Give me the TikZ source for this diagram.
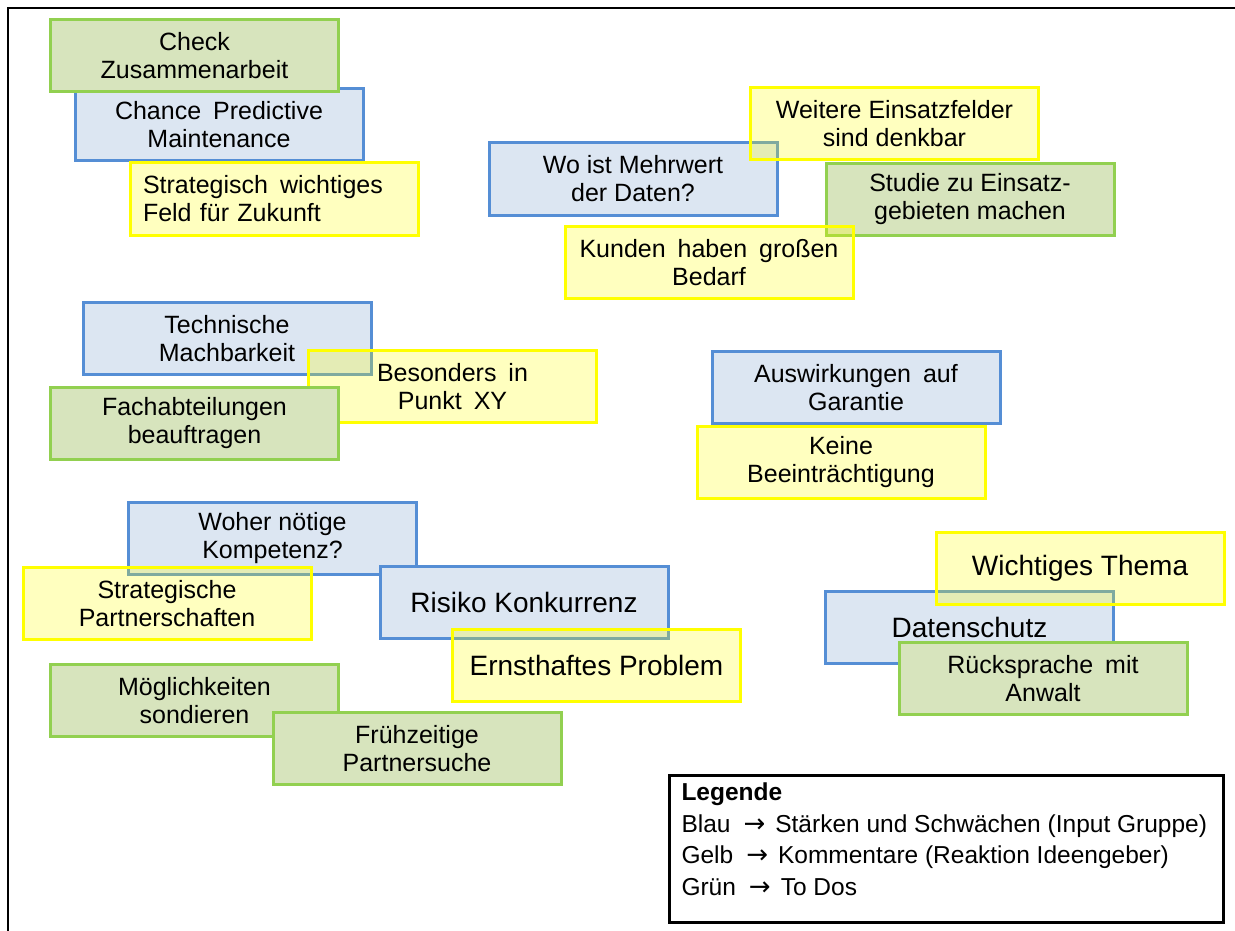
\documentclass[tikz,border=0pt]{standalone}
\usepackage{fontspec}
\setmainfont{Liberation Sans}
\newfontfamily\arrowfont{DejaVu Sans}
\definecolor{bfill}{RGB}{220,230,242}
\definecolor{bdraw}{RGB}{85,142,213}
\definecolor{gfill}{RGB}{215,228,189}
\definecolor{gdraw}{RGB}{146,208,80}
\definecolor{ydraw}{RGB}{255,255,0}
\newcommand\wsp{\hspace{0.48em}}
\newcommand\legarrow{\hspace{13pt}{\arrowfont\fontsize{26}{31.5}\selectfont →}\hspace{10pt}}
\begin{document}
\begin{tikzpicture}[x=1pt,y=-1pt,
  card/.style={rectangle, line width=3pt, minimum width=288pt, minimum height=72pt, inner sep=0pt, align=center, font=\fontsize{25}{28}\selectfont},
  bluecard/.style={card, draw=bdraw, fill=bfill},
  greencard/.style={card, draw=gdraw, fill=gfill},
  yellowcard/.style={card, draw=ydraw, fill=ydraw, fill opacity=0.25, text opacity=1},
  big/.style={font=\fontsize{28}{32}\selectfont},
  legendbox/.style={rectangle, draw=black, line width=3pt, fill=white, inner xsep=12.5pt, inner ysep=3.5pt, align=left}]
\useasboundingbox (0,0) rectangle (1235,931);
\fill[white] (0,0) rectangle (1235,931);
\coordinate (fb) at (8,931);
\coordinate (fc) at (8,8);
\coordinate (fr) at (1235,8);
\draw[line width=2.5pt] (fb) -- (fc) -- (fr);

\node[bluecard] (chance) at (219,124.5) {Chance\wsp Predictive\\Maintenance};
\node[greencard] (check) at (194.5,56) {Check\\Zusammenarbeit};
\node[yellowcard, align=left, text width=262pt, inner xsep=13pt] (strat) at (274,199) {Strategisch\wsp wichtiges\\Feld für Zukunft};

\node[bluecard] (wo) at (633,179) {Wo ist Mehrwert\\der Daten?};
\node[yellowcard] (weitere) at (894.5,124) {Weitere Einsatzfelder\\sind denkbar};
\node[greencard] (studie) at (970,199.5) {Studie zu Einsatz-\\gebieten machen};
\node[yellowcard] (kunden) at (709,262.5) {Kunden\wsp haben\wsp großen\\Bedarf};

\node[bluecard] (tech) at (227,338.5) {Technische\\Machbarkeit};
\node[yellowcard] (besonders) at (452.5,386.5) {Besonders\wsp in\\Punkt\wsp XY};
\node[greencard] (fach) at (194.5,423.5) {Fachabteilungen\\beauftragen};

\node[bluecard] (ausw) at (856,387.5) {Auswirkungen\wsp auf\\Garantie};
\node[yellowcard] (keine) at (841,462.5) {Keine\\Beeinträchtigung};

\node[bluecard] (woher) at (272.5,538) {Woher nötige\\Kompetenz?};
\node[yellowcard] (partner) at (167,603.5) {Strategische\\Partnerschaften};
\node[bluecard, big] (risiko) at (524,602.5) {Risiko Konkurrenz};
\node[yellowcard, big] (ernst) at (596.5,665) {Ernsthaftes Problem};

\node[greencard] (moegl) at (194.5,700.5) {Möglichkeiten\\sondieren};
\node[greencard] (frueh) at (417,748.5) {Frühzeitige\\Partnersuche};

\node[bluecard, big] (daten) at (969.5,627) {Datenschutz};
\node[yellowcard, big] (wichtig) at (1080,568) {Wichtiges Thema};
\node[greencard] (rueck) at (1043,678.5) {Rücksprache\wsp mit\\Anwalt};

\node[legendbox, anchor=north west] (legend) at (667.5,773.5) {\parbox[c][140pt][t]{529pt}{\fontsize{24.5}{31.5}\selectfont
\rule{0pt}{22pt}\textbf{Legende}\\
Blau\legarrow Stärken und Schwächen (Input Gruppe)\\
Gelb\legarrow Kommentare (Reaktion Ideengeber)\\
Grün\legarrow To Dos}};
\end{tikzpicture}
\end{document}
